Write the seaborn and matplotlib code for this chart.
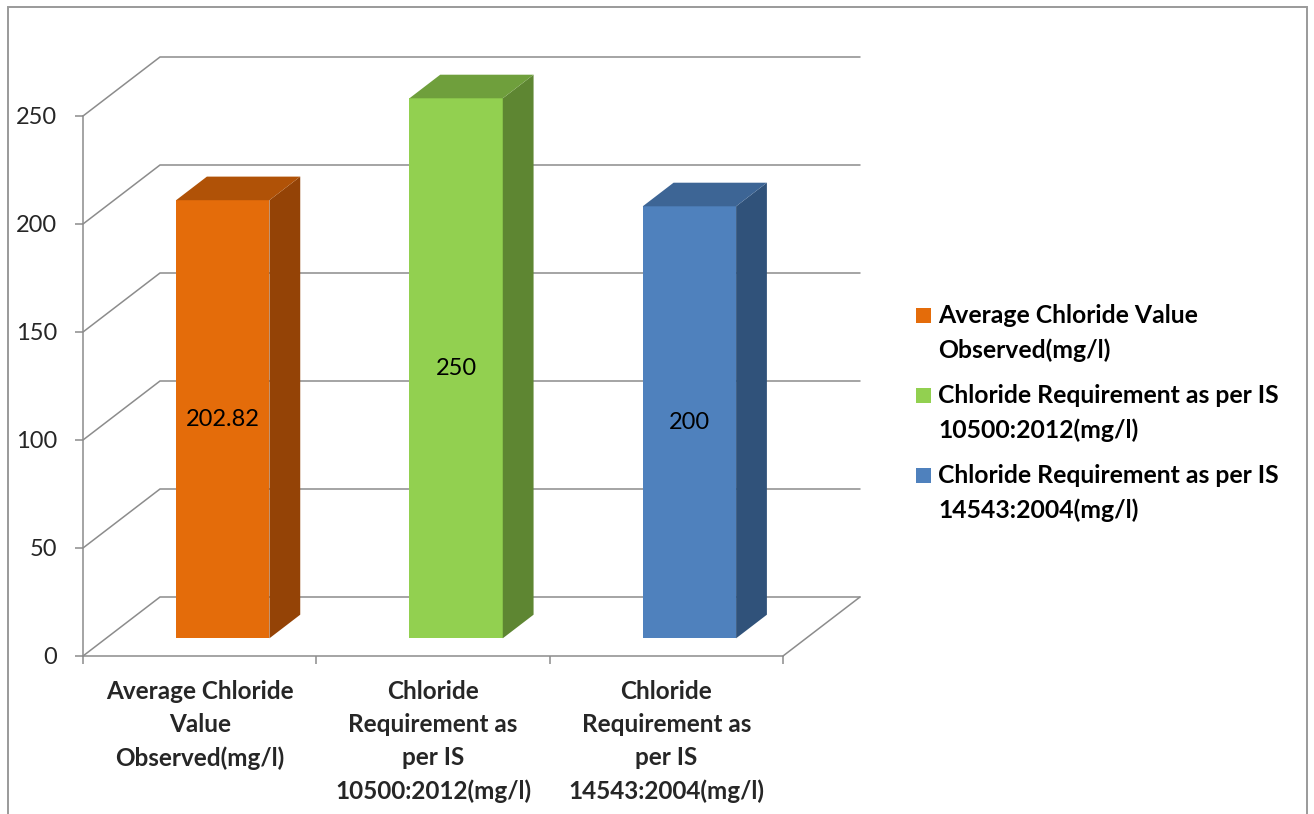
import matplotlib
matplotlib.use("Agg")
import matplotlib.pyplot as plt
import matplotlib.patches as mpatches
import matplotlib.transforms as mtransforms
import pandas as pd
import seaborn as sns

# ---- data ----
categories = [
    "Average Chloride\nValue\nObserved(mg/l)",
    "Chloride\nRequirement as\nper IS\n10500:2012(mg/l)",
    "Chloride\nRequirement as\nper IS\n14543:2004(mg/l)",
]
legend_labels = [
    ["Average Chloride Value", "Observed(mg/l)"],
    ["Chloride Requirement as per IS", "10500:2012(mg/l)"],
    ["Chloride Requirement as per IS", "14543:2004(mg/l)"],
]
values = [202.82, 250, 200]
value_labels = ["202.82", "250", "200"]
y_ticks = [0, 50, 100, 150, 200, 250]

# ---- style ----
front_colors = ["#E46C0A", "#92D050", "#4F81BD"]
top_colors = ["#B05207", "#6F9F3C", "#3D6595"]
side_colors = ["#944306", "#5E8632", "#30527A"]
grid_color = "#8C8C8C"

sns.set_style("white")
plt.rcParams["font.family"] = ["Lato", "DejaVu Sans"]

W, H = 1314, 814
fig = plt.figure(figsize=(W / 100, H / 100), dpi=100)
ax = fig.add_axes([83 / W, (H - 656) / H, 700 / W, 540 / H])

df = pd.DataFrame({"category": categories, "value": values})
sns.barplot(data=df, x="category", y="value", hue="category",
            palette=front_colors, saturation=1, width=0.4,
            legend=False, ax=ax, zorder=5)

ax.set_xlim(-0.5, 2.5)
ax.set_ylim(0, 250)

# depth of the 3-D box (pixels -> data units)
DEPTH_X_PX, DEPTH_Y_PX = 77, 59
DX = DEPTH_X_PX / 700 * 3
DY = DEPTH_Y_PX / 540 * 250
lw = 1.1

# back wall + left wall gridlines
for v in y_ticks:
    ax.plot([-0.5, -0.5 + DX, 2.5 + DX], [v, v + DY, v + DY],
            color=grid_color, lw=lw, clip_on=False, zorder=1,
            solid_joinstyle="miter")
# right edge of the floor
ax.plot([2.5, 2.5 + DX], [0, DY], color=grid_color, lw=lw,
        clip_on=False, zorder=1)

# bars sit in the middle of the depth (0.3 .. 0.7)
front_shift = ax.transData + mtransforms.ScaledTranslation(
    0.3 * DEPTH_X_PX / 100, 0.3 * DEPTH_Y_PX / 100, fig.dpi_scale_trans)
bx, by = 0.4 * DX, 0.4 * DY

for i, p in enumerate(list(ax.patches)):
    x0, w, h = p.get_x(), p.get_width(), p.get_height()
    p.set_transform(front_shift)
    p.set_clip_on(False)
    p.set_edgecolor("none")
    side = mpatches.Polygon(
        [(x0 + w, 0), (x0 + w + bx, by), (x0 + w + bx, h + by), (x0 + w, h)],
        closed=True, facecolor=side_colors[i], edgecolor="none",
        transform=front_shift, clip_on=False, zorder=5)
    top = mpatches.Polygon(
        [(x0, h), (x0 + bx, h + by), (x0 + w + bx, h + by), (x0 + w, h)],
        closed=True, facecolor=top_colors[i], edgecolor="none",
        transform=front_shift, clip_on=False, zorder=5)
    ax.add_patch(side)
    ax.add_patch(top)
    ax.text(x0 + w / 2, h / 2, value_labels[i], transform=front_shift,
            ha="center", va="center", fontsize=17, color="black",
            zorder=6)

# axes lines and ticks
for s in ("top", "right"):
    ax.spines[s].set_visible(False)
for s in ("left", "bottom"):
    ax.spines[s].set_color(grid_color)
    ax.spines[s].set_linewidth(lw)
    ax.spines[s].set_zorder(2)

ax.set_yticks(y_ticks)
ax.set_yticklabels([str(t) for t in y_ticks])
ax.tick_params(axis="y", length=5.8, width=lw, color=grid_color,
               pad=13, labelsize=17, direction="out", left=True)
ax.set_xticks([0, 1, 2])
ax.set_xticklabels(categories, fontweight="bold", fontsize=17.5,
                   linespacing=1.53)
ax.tick_params(axis="x", length=0, pad=17)
ax.set_xticks([-0.5, 0.5, 1.5, 2.5], minor=True)
ax.tick_params(axis="x", which="minor", length=5.8, width=lw,
               color=grid_color, direction="out", bottom=True)
ax.set_xlabel("")
ax.set_ylabel("")
ax.grid(False)

# legend
def fx(x):
    return x / W


def fy(y):
    return 1 - y / H


for i, lines in enumerate(legend_labels):
    base = 323 + 80 * i
    fig.patches.append(mpatches.Rectangle(
        (fx(916), fy(base)), 15 / W, 15 / H, transform=fig.transFigure,
        facecolor=front_colors[i], edgecolor="none"))
    for j, line in enumerate(lines):
        fig.text(fx(938), fy(base + 35 * j), line, ha="left", va="baseline",
                 fontsize=17.8, fontweight="bold", color="black")

# chart frame
fig.patches.append(mpatches.Rectangle(
    (fx(8), -0.1), (1307 - 8) / W, fy(7) + 0.1, transform=fig.transFigure,
    fill=False, edgecolor="#9A9A9A", lw=1.4))

fig.savefig("out.png", dpi=100)
